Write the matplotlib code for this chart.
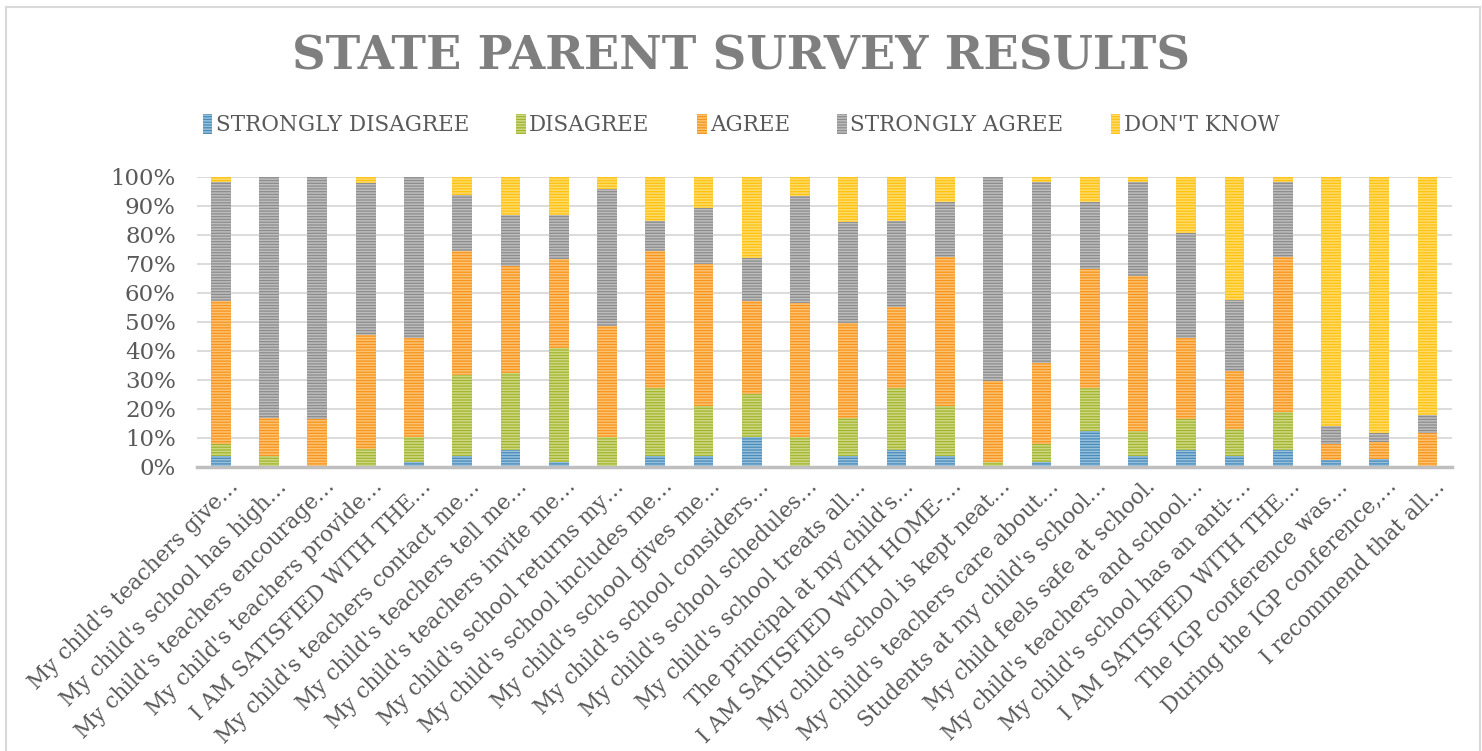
import matplotlib
matplotlib.use("Agg")
import matplotlib.pyplot as plt
import numpy as np
from matplotlib.transforms import ScaledTranslation
from matplotlib.lines import Line2D

categories = [
    "My child's teachers give…",
    "My child's school has high…",
    "My child's teachers encourage…",
    "My child's teachers provide…",
    "I AM SATISFIED WITH THE…",
    "My child's teachers contact me…",
    "My child's teachers tell me…",
    "My child's teachers invite me…",
    "My child's school returns my…",
    "My child's school includes me…",
    "My child's school gives me…",
    "My child's school considers…",
    "My child's school schedules…",
    "My child's school treats all…",
    "The principal at my child's…",
    "I AM SATISFIED WITH HOME-…",
    "My child's school is kept neat…",
    "My child's teachers care about…",
    "Students at my child's school…",
    "My child feels safe at school.",
    "My child's teachers and school…",
    "My child's school has an anti-…",
    "I AM SATISFIED WITH THE…",
    "The IGP conference was…",
    "During the IGP conference,…",
    "I recommend that all…",
]

series_names = ["STRONGLY DISAGREE", "DISAGREE", "AGREE", "STRONGLY AGREE", "DON'T KNOW"]

strongly_disagree = [3.8, 0.0, 0.0, 0.0, 1.5, 3.8, 5.9, 1.6, 0.0, 3.8, 3.8, 10.1, 0.0,
                     3.8, 5.9, 3.8, 0.0, 1.6, 12.3, 3.8, 5.9, 3.8, 5.9, 2.3, 2.5, 0.0]
disagree = [4.2, 3.8, 0.0, 6.0, 8.6, 27.8, 26.3, 39.4, 10.1, 23.4, 17.1, 15.0, 10.3,
            13.1, 21.3, 17.1, 1.6, 6.4, 14.9, 8.5, 10.5, 9.1, 12.8, 0.0, 0.0, 0.0]
agree = [49.2, 12.9, 16.4, 39.3, 34.2, 42.8, 37.1, 30.6, 38.5, 47.2, 49.0, 31.9, 46.0,
         32.6, 27.8, 51.3, 27.9, 27.9, 40.8, 53.6, 28.1, 20.1, 53.5, 5.7, 6.1, 11.5]
strongly_agree = [40.8, 83.3, 83.6, 52.4, 55.7, 19.3, 17.5, 15.2, 47.0, 10.3, 19.2, 15.1, 37.1,
                  35.0, 29.8, 19.2, 70.5, 62.1, 23.4, 32.1, 36.2, 24.5, 25.8, 6.1, 2.9, 6.3]
dont_know = [2.0, 0.0, 0.0, 2.3, 0.0, 6.3, 13.2, 13.2, 4.4, 15.3, 10.9, 27.9, 6.6,
             15.5, 15.2, 8.6, 0.0, 2.0, 8.6, 2.0, 19.3, 42.5, 2.0, 85.9, 88.5, 82.2]

values = [strongly_disagree, disagree, agree, strongly_agree, dont_know]
y_ticks = [0, 10, 20, 30, 40, 50, 60, 70, 80, 90, 100]

face_colors = ["#4a8bba", "#a3b52f", "#f7941d", "#8c8c8c", "#ffc20e"]
stripe_colors = ["#97c0dc", "#cdd883", "#fcc271", "#bdbdbd", "#ffdb6a"]

text_color = "#595959"
serif = ["DejaVu Serif"]

W, H = 1482, 751
fig = plt.figure(figsize=(W / 100, H / 100), dpi=100)
fig.patch.set_facecolor("white")

ax = fig.add_axes([196.7 / W, 1 - 466.7 / H, (1451.7 - 196.7) / W, (466.7 - 176.7) / H])

x = np.arange(len(categories))
bottom = np.zeros(len(categories))
handles = []
plt.rcParams["hatch.linewidth"] = 1.1
for name, vals, fc, sc in zip(series_names, values, face_colors, stripe_colors):
    v = np.array(vals)
    bars = ax.bar(x, v, bottom=bottom, width=0.41, color=fc, edgecolor=sc,
                  hatch="------", linewidth=0, label=name, zorder=3)
    bottom += v
    handles.append(bars)

ax.set_xlim(-0.5, len(categories) - 0.5)
ax.set_ylim(0, 100)
ax.set_yticks(y_ticks)
ax.set_yticklabels([f"{t}%" for t in y_ticks], fontsize=16.5, color=text_color, family=serif)
ax.yaxis.grid(True, color="#d9d9d9", linewidth=1.3, zorder=0)
ax.set_axisbelow(True)
for s in ["left", "right", "top"]:
    ax.spines[s].set_visible(False)
ax.spines["bottom"].set_color("#bfbfbf")
ax.spines["bottom"].set_linewidth(2.5)
ax.spines["bottom"].set_zorder(4)
ax.tick_params(axis="both", length=0)
ax.tick_params(axis="y", pad=15)

ax.set_xticks(x)
ax.set_xticklabels(categories, rotation=45, ha="right", va="center",
                   rotation_mode="anchor", fontsize=15.5, color=text_color, family=serif)
ax.tick_params(axis="x", pad=12)
offset = ScaledTranslation(0.14, 0.0, fig.dpi_scale_trans)
for lbl in ax.get_xticklabels():
    lbl.set_transform(lbl.get_transform() + offset)

fig.text(0.5, 1 - 57 / H, "STATE PARENT SURVEY RESULTS", ha="center", va="center",
         fontsize=33.5, fontweight="bold", color="#7f7f7f", family=serif)

leg = fig.legend(handles=handles, labels=series_names, loc="center",
                 bbox_to_anchor=(0.5, 1 - 125 / H), ncol=5, frameon=False,
                 handlelength=0.45, handleheight=1.1, handletextpad=0.15,
                 columnspacing=2.2, prop={"family": serif, "size": 15.5})
for t in leg.get_texts():
    t.set_color(text_color)

# chart border
fig.add_artist(Line2D([6 / W, 6 / W], [0, 1 - 7 / H], color="#d9d9d9", linewidth=1.5))
fig.add_artist(Line2D([6 / W, 1480 / W], [1 - 7 / H, 1 - 7 / H], color="#d9d9d9", linewidth=1.5))
fig.add_artist(Line2D([1480 / W, 1480 / W], [0, 1 - 7 / H], color="#d9d9d9", linewidth=1.5))

fig.savefig("out.png", dpi=100)
